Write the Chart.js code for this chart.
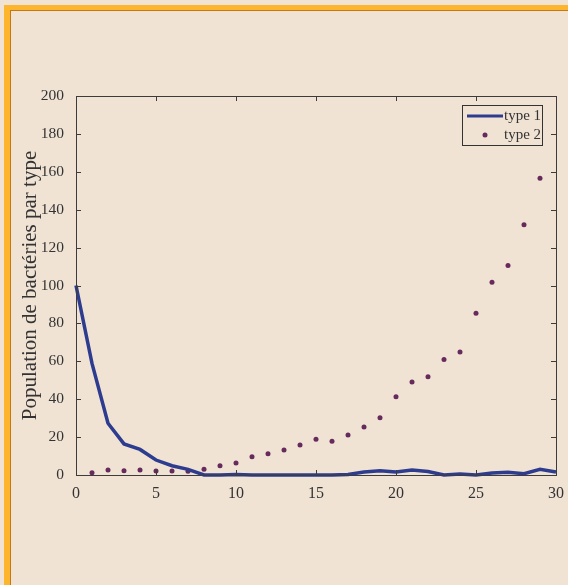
<!DOCTYPE html>
<html>
<head>
<meta charset="utf-8">
<script src="https://cdn.jsdelivr.net/npm/chart.js@4.4.1/dist/chart.umd.min.js"></script>
<style>
  html, body { margin: 0; padding: 0; background: #f0e3d4; }
  #wrap { position: relative; width: 568px; height: 585px; overflow: hidden; background: #f0e3d4; }
  #c { position: absolute; left: 0; top: 0; }
  #frameOuter { position: absolute; left: 4px; top: 5px; right: -10px; bottom: -10px;
    border-left: 6px solid #fcb52c; border-top: 5px solid #fcb52c; pointer-events: none; }
  #frameInner { position: absolute; left: 0; top: 0; right: 0; bottom: 0;
    border-left: 1px solid #c7770f; border-top: 1px solid #c7770f; }
</style>
</head>
<body>
<div id="wrap">
  <canvas id="c" width="568" height="585"></canvas>
  <div id="frameOuter"><div id="frameInner"></div></div>
</div>
<script>
const timeSteps = [0,1,2,3,4,5,6,7,8,9,10,11,12,13,14,15,16,17,18,19,20,21,22,23,24,25,26,27,28,29,30];
const type1 = [100, 58.9, 27.3, 16.4, 13.5, 7.9, 4.9, 3.0, 0, 0, 0.3, 0, 0, 0, 0, 0, 0, 0.3, 1.6, 2.3, 1.6, 2.6, 1.8, 0, 0.5, 0, 1.0, 1.5, 0.7, 3.0, 1.6];
const type2 = [null, 1.2, 2.6, 2.3, 2.6, 2.1, 2.1, 2.0, 3.0, 4.9, 6.3, 9.6, 11.2, 13.2, 15.8, 18.8, 17.8, 21.1, 25.3, 30.2, 41.3, 49.1, 51.9, 61.0, 64.9, 85.3, 101.7, 110.5, 132.1, 156.6, null];
const seriesLabels = ['type 1', 'type 2'];
const yTitle = 'Population de bactéries par type';
const xTicks = [0, 5, 10, 15, 20, 25, 30];
const yTicks = [0, 20, 40, 60, 80, 100, 120, 140, 160, 180, 200];

const SERIF = "'Liberation Serif', 'DejaVu Serif', serif";
const LINE_COLOR = '#2e3c8f';
const DOT_COLOR = '#662a5d';
const AXIS_COLOR = '#3c3c3c';
const TEXT_COLOR = '#333333';

const boxPlugin = {
  id: 'matlabBox',
  afterDraw(chart) {
    const ctx = chart.ctx;
    const a = chart.chartArea;
    const xs = chart.scales.x, ys = chart.scales.y;
    ctx.save();
    ctx.strokeStyle = AXIS_COLOR;
    ctx.lineWidth = 1;
    ctx.strokeRect(Math.round(a.left) + 0.5, Math.round(a.top) + 0.5, Math.round(a.right - a.left), Math.round(a.bottom - a.top));
    const tl = 5;
    ctx.beginPath();
    xTicks.forEach(v => {
      const px = Math.round(xs.getPixelForValue(v)) + 0.5;
      ctx.moveTo(px, a.bottom); ctx.lineTo(px, a.bottom - tl);
      ctx.moveTo(px, a.top); ctx.lineTo(px, a.top + tl);
    });
    yTicks.forEach(v => {
      const py = Math.round(ys.getPixelForValue(v)) + 0.5;
      ctx.moveTo(a.left, py); ctx.lineTo(a.left + tl, py);
      ctx.moveTo(a.right, py); ctx.lineTo(a.right - tl, py);
    });
    ctx.stroke();

    // legend box
    const bx = 462.5, by = 105.5, bw = 80, bh = 40;
    ctx.fillStyle = '#f0e3d4';
    ctx.fillRect(bx, by, bw, bh);
    ctx.strokeStyle = '#333';
    ctx.strokeRect(bx, by, bw, bh);
    ctx.strokeStyle = LINE_COLOR;
    ctx.lineWidth = 3;
    ctx.beginPath();
    ctx.moveTo(467, 116); ctx.lineTo(503, 116);
    ctx.stroke();
    ctx.fillStyle = DOT_COLOR;
    ctx.beginPath();
    ctx.arc(485, 135, 2.5, 0, Math.PI * 2);
    ctx.fill();
    ctx.fillStyle = TEXT_COLOR;
    ctx.font = "15px " + SERIF;
    ctx.textBaseline = 'middle';
    ctx.textAlign = 'left';
    ctx.fillText(chart.data.datasets[0].label, 504, 116);
    ctx.fillText(chart.data.datasets[1].label, 504, 135);
    ctx.restore();
  }
};

new Chart(document.getElementById('c'), {
  type: 'line',
  data: {
    datasets: [
      {
        label: seriesLabels[0],
        data: timeSteps.map((t, i) => ({ x: t, y: type1[i] })),
        borderColor: LINE_COLOR,
        borderWidth: 3.5,
        pointRadius: 0,
        tension: 0,
        fill: false,
        clip: 6
      },
      {
        label: seriesLabels[1],
        data: timeSteps.map((t, i) => ({ x: t, y: type2[i] })),
        showLine: false,
        pointRadius: 2.5,
        pointBackgroundColor: DOT_COLOR,
        pointBorderColor: DOT_COLOR,
        pointBorderWidth: 0,
        clip: 6
      }
    ]
  },
  options: {
    responsive: false,
    animation: false,
    events: [],
    layout: { padding: { top: 96, right: 12, left: 0, bottom: 0 } },
    plugins: { legend: { display: false }, tooltip: { enabled: false } },
    scales: {
      x: {
        type: 'linear',
        min: 0, max: 30,
        afterFit(s) { s.height = 110; s.paddingLeft = 0; s.paddingRight = 0; },
        afterBuildTicks(s) { s.ticks = xTicks.map(v => ({ value: v })); },
        grid: { display: false, drawTicks: false },
        border: { display: false },
        ticks: { padding: 9, color: TEXT_COLOR, font: { family: SERIF, size: 16 }, maxRotation: 0 }
      },
      y: {
        min: 0, max: 200,
        afterFit(s) { s.width = 76; s.paddingTop = 0; s.paddingBottom = 0; },
        afterBuildTicks(s) { s.ticks = yTicks.map(v => ({ value: v })); },
        grid: { display: false, drawTicks: false },
        border: { display: false },
        ticks: { padding: 12, color: TEXT_COLOR, font: { family: SERIF, size: 15.5 } },
        title: { display: true, text: yTitle, color: TEXT_COLOR, font: { family: SERIF, size: 21 }, padding: { top: 18, bottom: 0 } }
      }
    }
  },
  plugins: [boxPlugin]
});
</script>
</body>
</html>
